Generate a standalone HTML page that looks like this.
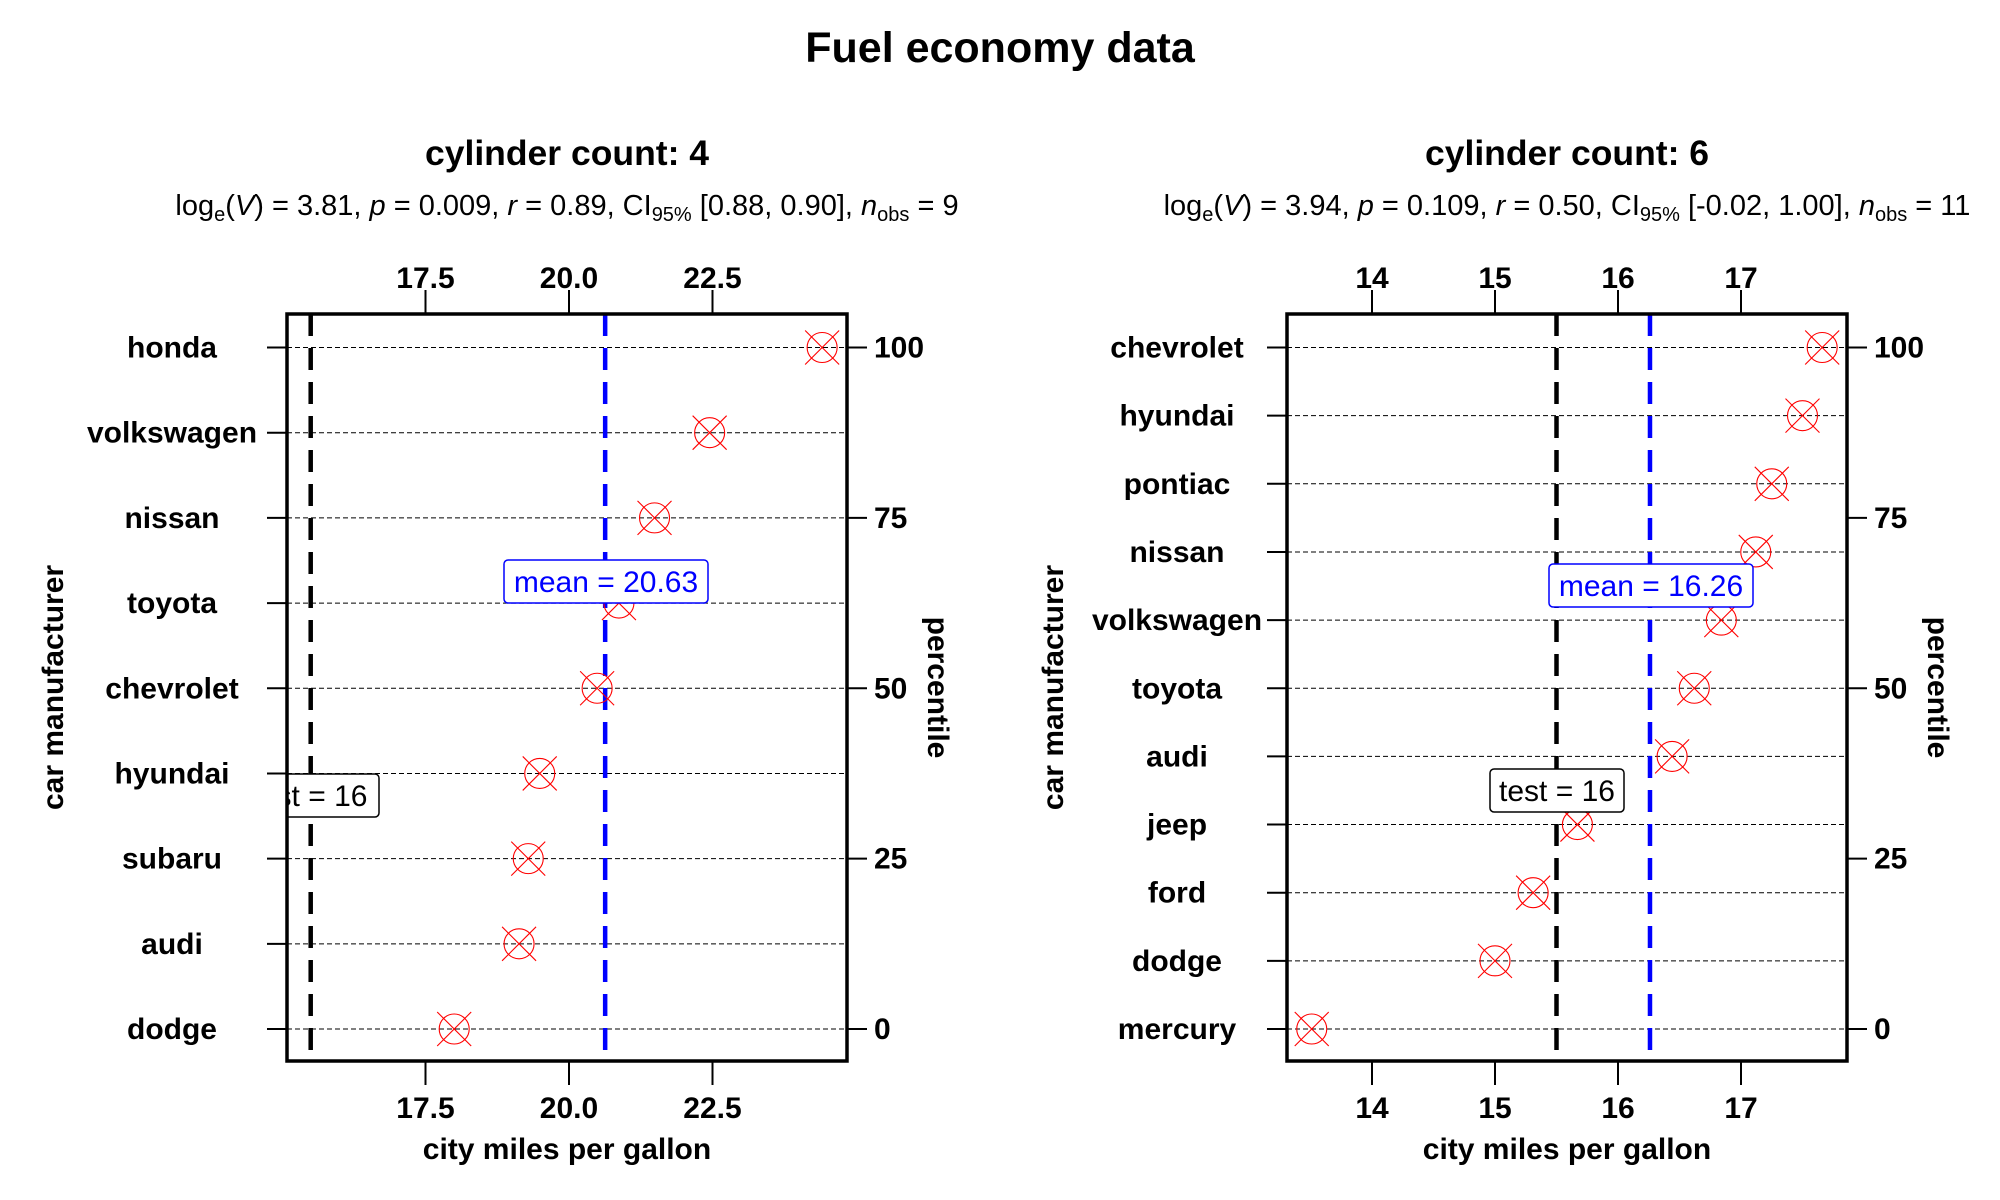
<!DOCTYPE html>
<html><head><meta charset="utf-8"><style>
html,body{margin:0;padding:0;background:#fff;}
svg{display:block;font-family:"Liberation Sans",Arial,sans-serif;}
</style></head><body>
<svg id="chart" width="2000" height="1200" viewBox="0 0 2000 1200" xmlns="http://www.w3.org/2000/svg">
<rect width="2000" height="1200" fill="#fff"/>
<text x="1000" y="62" font-size="43" font-weight="bold" text-anchor="middle">Fuel economy data</text>
</svg>
<script>
// ---- data ----
const cats4 = ["honda","volkswagen","nissan","toyota","chevrolet","hyundai","subaru","audi","dodge"];
const vals4 = [24.41,22.45,21.49,20.87,20.49,19.49,19.29,19.13,18.0];
const ticks4 = [17.5,20.0,22.5];
const tickLabels4 = ["17.5","20.0","22.5"];
const cats6 = ["chevrolet","hyundai","pontiac","nissan","volkswagen","toyota","audi","jeep","ford","dodge","mercury"];
const vals6 = [17.66,17.50,17.25,17.12,16.84,16.62,16.44,15.67,15.31,15.0,13.51];
const ticks6 = [14,15,16,17];
const tickLabels6 = ["14","15","16","17"];
const pctTicks = [100,75,50,25,0];
const means = [20.63,16.26];
const meanLabels = ["20.63","16.26"];
const testValue = 16;
const testLinePos = [15.5,15.5];
const stats4 = ["3.81","0.009","0.89","[0.88, 0.90]","9"];
const stats6 = ["3.94","0.109","0.50","[-0.02, 1.00]","11"];

const NS="http://www.w3.org/2000/svg";
const svg=document.getElementById('chart');
function mk(tag,attrs,parent,text){const e=document.createElementNS(NS,tag);for(const k in attrs)e.setAttribute(k,attrs[k]);if(text!==undefined)e.textContent=text;(parent||svg).appendChild(e);return e;}

const panels=[
 {x0:287,x1:847,dom:[20,569,57.4],cats:cats4,vals:vals4,ticks:ticks4,tl:tickLabels4,title:"cylinder count: 4",stats:stats4,labCx:172,mlab:[504,560,204,43],tlab:[240,774,139,43],clipTest:true},
 {x0:1287,x1:1847,dom:[15,1495,123],cats:cats6,vals:vals6,ticks:ticks6,tl:tickLabels6,title:"cylinder count: 6",stats:stats6,labCx:1177,mlab:[1549,564,204,43],tlab:[1490,769,134,43],clipTest:false}
];
const yTop=314,yBot=1061,rTop=347.5,rBot=1029;

panels.forEach((P,pi)=>{
 const xs=v=>P.dom[1]+(v-P.dom[0])*P.dom[2];
 const n=P.cats.length;
 const ys=i=>rTop+i*(rBot-rTop)/(n-1);
 const yp=p=>rBot-(p/100)*(rBot-rTop);
 const cx=(P.x0+P.x1)/2;
 const g=mk('g',{});
 
 
 const t=mk('text',{x:cx,y:165,'font-size':35.5,'font-weight':'bold','text-anchor':'middle'},g,P.title);
 
 
 const s=P.stats;
 const st=mk('text',{x:cx,y:215,'font-size':29,'text-anchor':'middle'},g);
 
 
 st.innerHTML='log<tspan font-size="20" dy="6">e</tspan><tspan dy="-6">(</tspan><tspan font-style="italic">V</tspan>) = '+s[0]+', <tspan font-style="italic">p</tspan> = '+s[1]+', <tspan font-style="italic">r</tspan> = '+s[2]+', CI<tspan font-size="20" dy="6">95%</tspan><tspan dy="-6"> '+s[3]+', </tspan><tspan font-style="italic">n</tspan><tspan font-size="20" dy="6">obs</tspan><tspan dy="-6"> = '+s[4]+'</tspan>';
 P.cats.forEach((c,i)=>{
  const y=ys(i);
  const gl=mk('line',{x1:P.x0,x2:P.x1,y1:y,y2:y,stroke:'#000','stroke-width':1,'stroke-dasharray':'5,3'},g);
  
  
  mk('line',{x1:P.x0-20,x2:P.x0,y1:y,y2:y,stroke:'#000','stroke-width':2},g);
  const lb=mk('text',{x:P.labCx,y:y+10,'font-size':30,'font-weight':'bold','text-anchor':'middle'},g,c);
  
  
 });
 pctTicks.forEach(p=>{
  const y=yp(p);
  mk('line',{x1:P.x1,x2:P.x1+20,y1:y,y2:y,stroke:'#000','stroke-width':2},g);
  const lb=mk('text',{x:P.x1+27,y:y+10,'font-size':30,'font-weight':'bold'},g,String(p));
  
  
 });
 P.ticks.forEach((v,i)=>{
  const x=xs(v);
  mk('line',{x1:x,x2:x,y1:yTop,y2:yTop-24,stroke:'#000','stroke-width':2},g);
  mk('line',{x1:x,x2:x,y1:yBot,y2:yBot+24,stroke:'#000','stroke-width':2},g);
  const a=mk('text',{x:x,y:288,'font-size':30,'font-weight':'bold','text-anchor':'middle'},g,P.tl[i]);
  
  
  const b=mk('text',{x:x,y:1118,'font-size':30,'font-weight':'bold','text-anchor':'middle'},g,P.tl[i]);
  
  
 });
 const tx=xs(testLinePos[pi]);
 const tl=mk('line',{x1:tx,x2:tx,y1:yTop,y2:yBot,stroke:'#000','stroke-width':4.5,'stroke-dasharray':'22,12'},g);
 
 
 const mx=xs(means[pi]);
 const ml=mk('line',{x1:mx,x2:mx,y1:yTop,y2:yBot,stroke:'#0000ff','stroke-width':4.5,'stroke-dasharray':'22,12'},g);
 
 
 P.vals.forEach((v,i)=>{
  const x=xs(v),y=ys(i);
  const pg=mk('g',{stroke:'#ff0000','stroke-width':1.1,fill:'none'},g);
  
  
  mk('circle',{cx:x,cy:y,r:15},pg);
  mk('line',{x1:x-17,y1:y-17,x2:x+17,y2:y+17},pg);
  mk('line',{x1:x-17,y1:y+17,x2:x+17,y2:y-17},pg);
 });
 const m=P.mlab;
 const mlg=mk('g',{},g);
 
 
 mk('rect',{x:m[0],y:m[1],width:m[2],height:m[3],rx:4,fill:'#fff',stroke:'#0000ff','stroke-width':1.5},mlg);
 mk('text',{x:m[0]+m[2]/2,y:m[1]+32,'font-size':30,fill:'#0000ff','text-anchor':'middle'},mlg,'mean = '+meanLabels[pi]);
 const q=P.tlab;
 const tg=mk('g',{},g);
 
 
 if(P.clipTest){
  const cp=mk('clipPath',{id:'clipL'},svg);
  mk('rect',{x:P.x0,y:0,width:P.x1-P.x0,height:1200},cp);
  tg.setAttribute('clip-path','url(#clipL)');
 }
 mk('rect',{x:q[0],y:q[1],width:q[2],height:q[3],rx:4,fill:'#fff',stroke:'#000','stroke-width':1.5},tg);
 mk('text',{x:q[0]+q[2]/2,y:q[1]+32,'font-size':30,fill:'#000','text-anchor':'middle'},tg,'test = '+testValue);
 const bx=mk('rect',{x:P.x0,y:yTop,width:P.x1-P.x0,height:yBot-yTop,fill:'none',stroke:'#000','stroke-width':3.5},g);
 
 
 const xt=mk('text',{x:cx,y:1159,'font-size':30,'font-weight':'bold','text-anchor':'middle'},g,'city miles per gallon');
 
 
 const ylx=P.x0-224, mid=(yTop+yBot)/2;
 const yt=mk('text',{x:ylx,y:mid,'font-size':30,'font-weight':'bold','text-anchor':'middle',transform:'rotate(-90 '+ylx+' '+mid+')'},g,'car manufacturer');
 
 
 const prx=P.x1+81;
 const pt=mk('text',{x:prx,y:mid,'font-size':30,'font-weight':'bold','text-anchor':'middle',transform:'rotate(90 '+prx+' '+mid+')'},g,'percentile');
 
 
});
</script>
</body></html>
